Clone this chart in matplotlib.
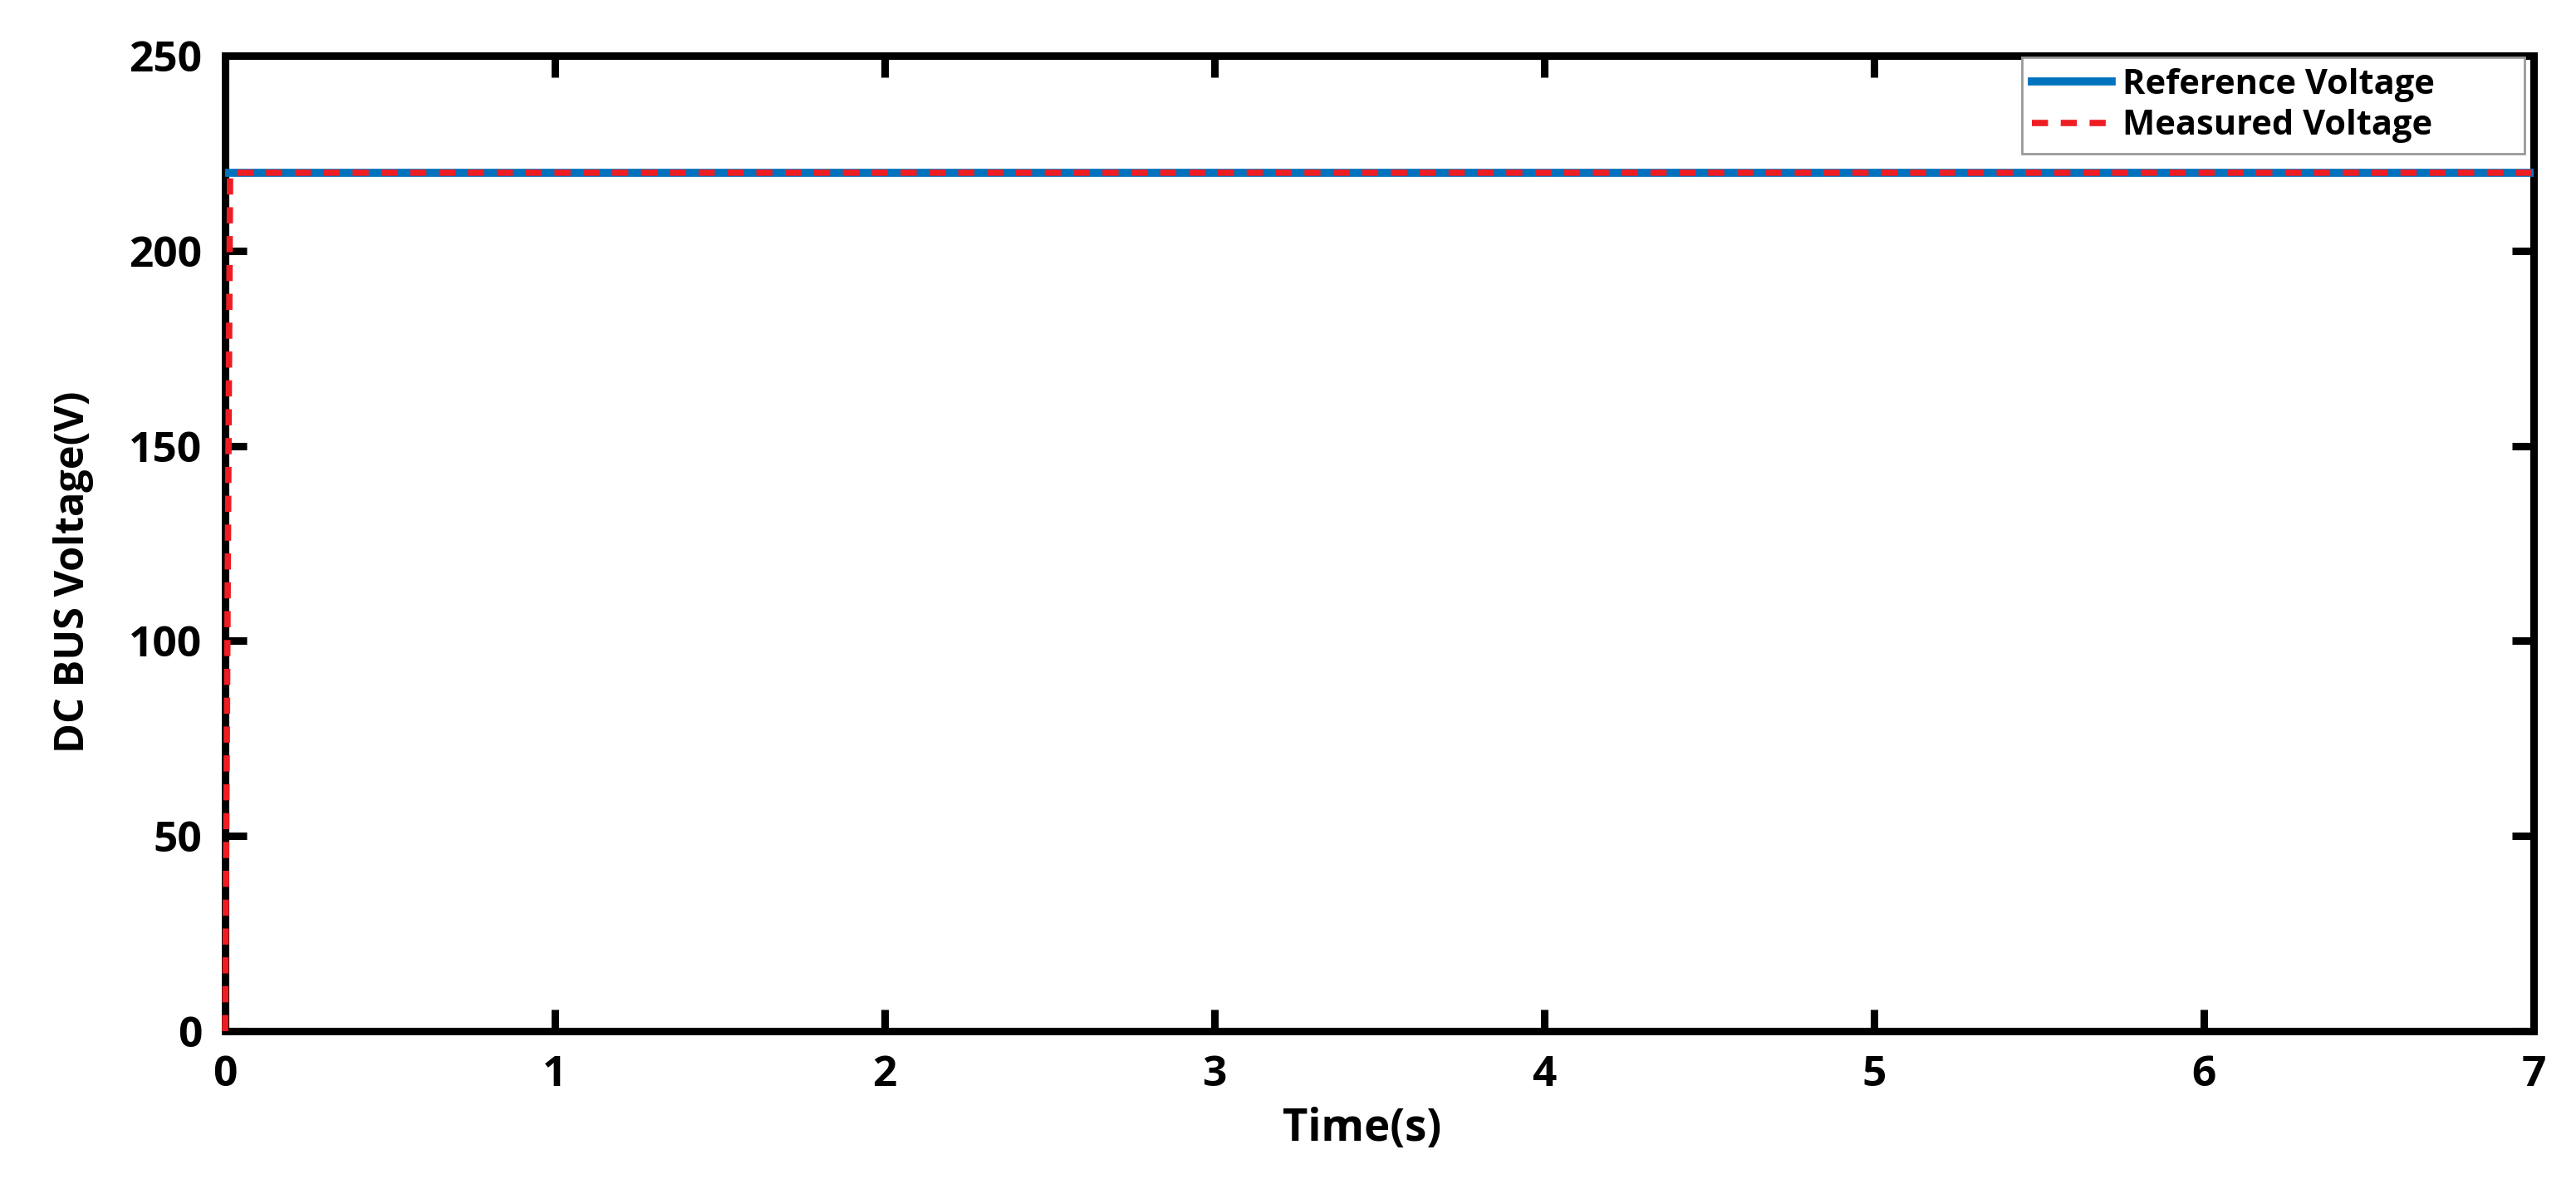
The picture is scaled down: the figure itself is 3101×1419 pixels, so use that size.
import matplotlib
matplotlib.use("Agg")
import matplotlib.pyplot as plt

# data
t_ref = [0, 7]
v_ref = [220, 220]
t_meas = [0, 0.015, 7]
v_meas = [0, 220, 220]
x_ticks = [0, 1, 2, 3, 4, 5, 6, 7]
y_ticks = [0, 50, 100, 150, 200, 250]

plt.rcParams['font.family'] = ['Open Sans', 'DejaVu Sans']
plt.rcParams['font.weight'] = 'bold'
plt.rcParams['lines.scale_dashes'] = False

fig = plt.figure(figsize=(31.01, 14.19), dpi=100)
ax = fig.add_axes([0.0874, 0.1254, 0.8961, 0.8274])

ax.plot(t_ref, v_ref, color='#0072BD', lw=7, label='Reference Voltage', zorder=3)
ax.plot(t_meas, v_meas, color='#EE1D23', lw=5.5, ls=(0, (14, 11)),
        label='Measured Voltage', zorder=4, clip_on=False)

ax.set_xlim(0, 7)
ax.set_ylim(0, 250)
ax.set_xticks(x_ticks)
ax.set_yticks(y_ticks)

for s in ax.spines.values():
    s.set_linewidth(6.5)
ax.tick_params(direction='in', length=19, width=6.5, labelsize=37,
               top=True, right=True, pad=20)
for lab in ax.get_xticklabels() + ax.get_yticklabels():
    lab.set_fontweight('bold')

ax.set_xlabel('Time(s)', fontsize=38, fontweight='bold')
ax.xaxis.set_label_coords(0.4926, -0.0775)
ax.set_ylabel('DC BUS Voltage(V)', fontsize=35, fontweight='bold')
ax.yaxis.set_label_coords(-0.057, 0.471)

# legend box stretched to the width it has in the reference
leg = ax.legend(loc='upper left', bbox_to_anchor=(0.7783, 0.8, 0.2177, 0.198),
                mode='expand', borderaxespad=0, fancybox=False, framealpha=1,
                edgecolor='#999999', fontsize=30, handlelength=2.3,
                handletextpad=0.3, labelspacing=0.2, borderpad=0.3)
leg.get_frame().set_linewidth(2)
for txt in leg.get_texts():
    txt.set_fontweight('bold')

fig.savefig('out.png', dpi=100)
